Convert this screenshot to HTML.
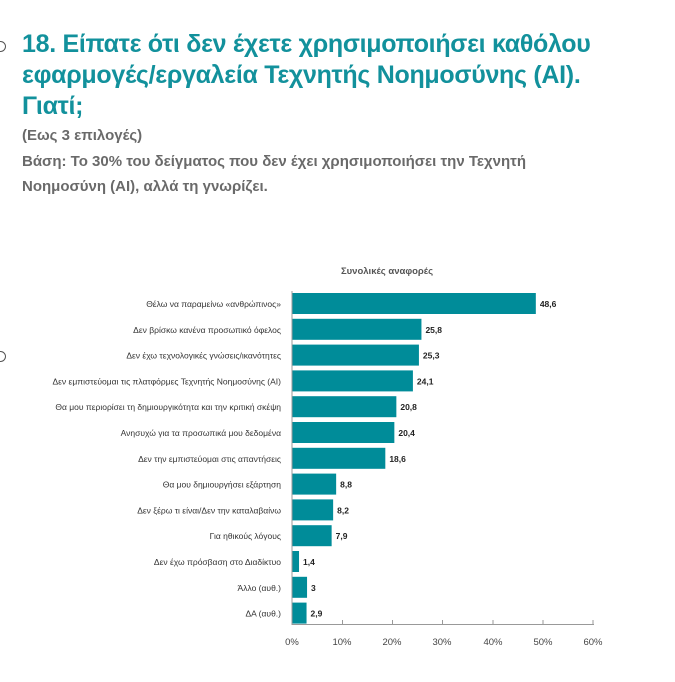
<!DOCTYPE html><html><head><meta charset="utf-8"><style>
body{margin:0;width:675px;height:682px;background:#fff;font-family:"Liberation Sans",sans-serif;position:relative;overflow:hidden}
.t{position:absolute;left:22px;top:29px;color:#12919c;font-weight:bold;font-size:25px;line-height:31px;letter-spacing:-0.3px}
.s{position:absolute;left:22px;top:123px;color:#6a6a6a;font-weight:bold;font-size:15px;line-height:25.5px}
.c{position:absolute;width:9px;height:9px;border:1.3px solid #555;border-radius:50%;left:-5px}
</style></head><body>
<div class="c" style="top:41px"></div><div class="c" style="top:351px"></div>
<div class="t">18. Είπατε ότι δεν έχετε χρησιμοποιήσει καθόλου<br>εφαρμογές/εργαλεία Τεχνητής Νοημοσύνης (AI).<br>Γιατί;</div>
<div class="s">(Εως 3 επιλογές)<br>Βάση: Το 30% του δείγματος που δεν έχει χρησιμοποιήσει την Τεχνητή<br>Νοημοσύνη (AI), αλλά τη γνωρίζει.</div>
<svg width="675" height="682" style="position:absolute;left:0;top:0" font-family="Liberation Sans, sans-serif">
<text x="387" y="274" font-size="9.5" font-weight="bold" fill="#555" text-anchor="middle">Συνολικές αναφορές</text>
<g id="bars"></g>
<line x1="292" y1="291" x2="292" y2="625" stroke="#999"/>
<line x1="292" y1="624.5" x2="594" y2="624.5" stroke="#999"/>
<g stroke="#999"><line x1="342.5" y1="620" x2="342.5" y2="625"/><line x1="392.5" y1="620" x2="392.5" y2="625"/><line x1="442.5" y1="620" x2="442.5" y2="625"/><line x1="493" y1="620" x2="493" y2="625"/><line x1="543" y1="620" x2="543" y2="625"/><line x1="593" y1="620" x2="593" y2="625"/></g>
<g font-size="9.5" fill="#444" text-anchor="middle"><text x="292" y="645">0%</text><text x="342" y="645">10%</text><text x="392" y="645">20%</text><text x="442" y="645">30%</text><text x="493" y="645">40%</text><text x="543" y="645">50%</text><text x="593" y="645">60%</text></g>
</svg>
<script>
var d=[["Θέλω να παραμείνω «ανθρώπινος»",48.6,"48,6"],["Δεν βρίσκω κανένα προσωπικό όφελος",25.8,"25,8"],["Δεν έχω τεχνολογικές γνώσεις/ικανότητες",25.3,"25,3"],["Δεν εμπιστεύομαι τις πλατφόρμες Τεχνητής Νοημοσύνης (AI)",24.1,"24,1"],["Θα μου περιορίσει τη δημιουργικότητα και την κριτική σκέψη",20.8,"20,8"],["Ανησυχώ για τα προσωπικά μου δεδομένα",20.4,"20,4"],["Δεν την εμπιστεύομαι στις απαντήσεις",18.6,"18,6"],["Θα μου δημιουργήσει εξάρτηση",8.8,"8,8"],["Δεν ξέρω τι είναι/Δεν την καταλαβαίνω",8.2,"8,2"],["Για ηθικούς λόγους",7.9,"7,9"],["Δεν έχω πρόσβαση στο Διαδίκτυο",1.4,"1,4"],["Άλλο (αυθ.)",3,"3"],["ΔΑ (αυθ.)",2.9,"2,9"]];
var h="";d.forEach(function(r,i){var y=293+i*25.8,w=r[1]*5.017;
h+='<rect x="292" y="'+y+'" width="'+w+'" height="21" fill="#008c99"/>';
h+='<text x="'+(296+w)+'" y="'+(y+14)+'" font-size="8.5" font-weight="bold" fill="#222">'+r[2]+'</text>';
h+='<text x="281" y="'+(y+14)+'" font-size="8.5" fill="#333" text-anchor="end">'+r[0]+'</text>';});
document.getElementById("bars").innerHTML=h;
</script>
</body></html>
